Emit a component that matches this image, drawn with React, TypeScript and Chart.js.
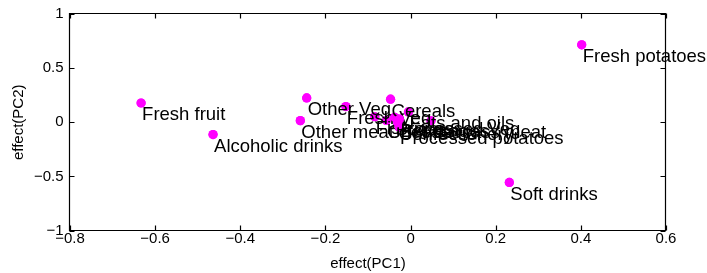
import React, { useEffect, useRef } from "react";
import { Chart, registerables } from "chart.js";

Chart.register(...registerables);

const foodNames = [
  "Cheese", "Carcass meat", "Other meat", "Fish", "Fats and oils", "Sugars",
  "Fresh potatoes", "Fresh Veg", "Other Veg", "Processed potatoes", "Processed Veg",
  "Fresh fruit", "Cereals", "Beverages", "Soft drinks", "Alcoholic drinks", "Confectionery",
];
const pc1Effect = [
  -0.057, 0.048, -0.259, -0.084, -0.005, -0.038, 0.402, -0.152, -0.244, -0.027, -0.037,
  -0.633, -0.047, -0.026, 0.232, -0.464, -0.030,
];
const pc2Effect = [
  0.016, 0.014, 0.015, 0.051, 0.095, 0.044, 0.715, 0.145, 0.225, -0.043, 0.045,
  0.178, 0.213, 0.030, -0.556, -0.114, -0.005,
];
const xTicks = [-0.8, -0.6, -0.4, -0.2, 0, 0.2, 0.4, 0.6];
const yTicks = [-1, -0.5, 0, 0.5, 1];

const FONT = '"Liberation Sans", Arial, Helvetica, sans-serif';

function fmt(v: number): string {
  const r = Math.round(v * 1000) / 1000;
  if (r === 0) return "0";
  const s = String(Math.abs(r));
  return r < 0 ? "\u2212" + s : s;
}

const matlabPlugin = {
  id: "matlabPlugin",
  afterDatasetsDraw(chart: any) {
    const ctx = chart.ctx as CanvasRenderingContext2D;
    const meta = chart.getDatasetMeta(0);
    ctx.save();
    meta.data.forEach((pt: any, i: number) => {
      pt.draw(ctx, chart.chartArea);
      ctx.fillStyle = "#000";
      ctx.font = "18.5px " + FONT;
      ctx.textAlign = "left";
      ctx.textBaseline = "alphabetic";
      ctx.fillText(foodNames[i], pt.x + 1, pt.y + 17.5);
    });
    ctx.restore();
  },
  afterDraw(chart: any) {
    const ctx = chart.ctx as CanvasRenderingContext2D;
    const xs = chart.scales.x;
    const ys = chart.scales.y;
    const L = 69.5, R = 665.5, T = 13.5, B = 230.5;
    const tl = 5;
    ctx.save();
    ctx.strokeStyle = "#000";
    ctx.lineWidth = 1.2;
    ctx.beginPath();
    ctx.rect(L, T, R - L, B - T);
    for (const v of xTicks) {
      const px = Math.round(xs.getPixelForValue(v)) + 0.5;
      ctx.moveTo(px, B);
      ctx.lineTo(px, B - tl);
      ctx.moveTo(px, T);
      ctx.lineTo(px, T + tl);
    }
    for (const v of yTicks) {
      const py = Math.round(ys.getPixelForValue(v)) + 0.5;
      ctx.moveTo(L, py);
      ctx.lineTo(L + tl, py);
      ctx.moveTo(R, py);
      ctx.lineTo(R - tl, py);
    }
    ctx.stroke();
    ctx.restore();
  },
};

export default function App() {
  const ref = useRef<HTMLCanvasElement | null>(null);

  useEffect(() => {
    if (!ref.current) return;
    const points = pc1Effect.map((x, i) => ({ x, y: pc2Effect[i] }));
    const chart = new Chart(ref.current, {
      type: "scatter",
      data: {
        datasets: [
          {
            data: points,
            backgroundColor: "#ff00ff",
            borderColor: "#ff00ff",
            borderWidth: 0,
            pointRadius: 4.6,
            pointHoverRadius: 4.6,
          },
        ],
      },
      options: {
        responsive: false,
        animation: false,
        events: [],
        layout: { padding: { top: 13.5, right: 41, left: 0, bottom: 0 } },
        plugins: { legend: { display: false }, tooltip: { enabled: false } },
        scales: {
          x: {
            type: "linear",
            min: -0.8,
            max: 0.6,
            afterBuildTicks: (s: any) => {
              s.ticks = xTicks.map((v) => ({ value: v }));
            },
            afterFit: (s: any) => {
              s.height = 42.5;
            },
            grid: { display: false, drawTicks: false },
            border: { display: false },
            ticks: {
              autoSkip: false,
              maxRotation: 0,
              padding: 0.5,
              color: "#000",
              font: { family: FONT, size: 15, lineHeight: 1 },
              callback: (v: any) => fmt(Number(v)),
            },
            title: {
              display: true,
              text: "effect(PC1)",
              color: "#000",
              font: { family: FONT, size: 15, lineHeight: 1.2 },
              padding: { top: 0, bottom: 0 },
            },
          },
          y: {
            type: "linear",
            min: -1,
            max: 1,
            afterBuildTicks: (s: any) => {
              s.ticks = yTicks.map((v) => ({ value: v }));
            },
            afterFit: (s: any) => {
              s.width = 70;
            },
            grid: { display: false, drawTicks: false },
            border: { display: false },
            ticks: {
              autoSkip: false,
              padding: 6.5,
              color: "#000",
              font: { family: FONT, size: 15, lineHeight: 1 },
              callback: (v: any) => fmt(Number(v)),
            },
            title: {
              display: true,
              text: "effect(PC2)",
              color: "#000",
              font: { family: FONT, size: 15, lineHeight: 1.2 },
              padding: { top: 10, bottom: 0 },
            },
          },
        },
      },
      plugins: [matlabPlugin],
    });
    return () => chart.destroy();
  }, []);

  return (
    <div style={{ position: "fixed", left: 0, top: 0, width: 707, height: 273, background: "#fff" }}>
      <canvas ref={ref} width={707} height={273} style={{ display: "block" }} />
    </div>
  );
}
